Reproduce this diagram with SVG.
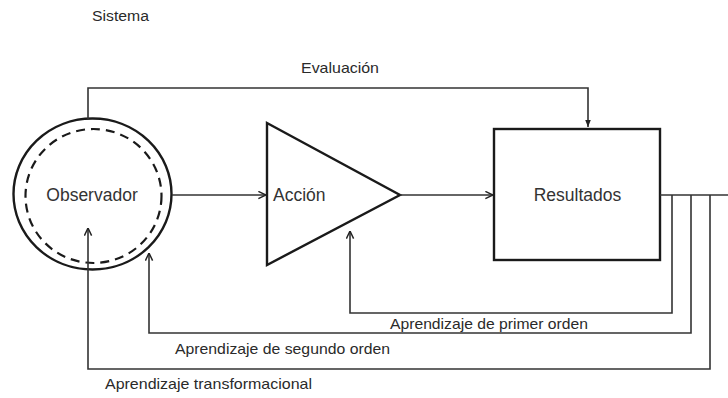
<svg xmlns="http://www.w3.org/2000/svg" width="728" height="398" viewBox="0 0 728 398">
<defs>
<marker id="arr" viewBox="0 0 10 10" refX="9.5" refY="5" markerWidth="9" markerHeight="9" markerUnits="userSpaceOnUse" orient="auto">
<path d="M1,1 L9.5,5 L1,9" fill="none" stroke="#222" stroke-width="1.6"/>
</marker>
<marker id="arrf" viewBox="0 0 10 10" refX="10" refY="5" markerWidth="7" markerHeight="7" markerUnits="userSpaceOnUse" orient="auto">
<path d="M0,1 L10,5 L0,9 Z" fill="#222"/>
</marker>
<style>
text{font-family:"Liberation Sans",Arial,sans-serif;fill:#2a2a2a}
.shape{fill:#fff;stroke:#1a1a1a;stroke-width:2.4}
.con{fill:none;stroke:#333;stroke-width:1.6}
.lbl{font-size:15px}
.node{font-size:17.5px;fill:#333}
</style>
</defs>
<rect width="728" height="398" fill="#fff"/>
<text class="lbl" x="92" y="21" textLength="57" lengthAdjust="spacingAndGlyphs" style="font-size:14px">Sistema</text>
<text class="lbl" x="301" y="73" textLength="78" lengthAdjust="spacingAndGlyphs">Evaluación</text>
<g id="observador">
<ellipse class="shape" cx="92.5" cy="194" rx="79" ry="75.5"/>
<ellipse cx="93.5" cy="196" rx="68" ry="67" fill="none" stroke="#1a1a1a" stroke-width="2.2" stroke-dasharray="9,6"/>
<text class="node" x="92" y="201" text-anchor="middle">Observador</text>
</g>
<g id="accion">
<polygon class="shape" points="267,123 400,195 267,265"/>
<text class="node" x="273" y="201">Acción</text>
</g>
<g id="resultados">
<rect class="shape" x="494" y="129" width="166" height="131"/>
<text class="node" x="577.5" y="201" text-anchor="middle">Resultados</text>
</g>
<g id="connectors">
<path class="con" d="M88,119 V88 H588 V127" marker-end="url(#arrf)"/>
<path class="con" d="M172,195 H266" marker-end="url(#arr)"/>
<path class="con" d="M400,195 H493" marker-end="url(#arr)"/>
<path class="con" d="M660,195 H728"/>
<path class="con" d="M672,195 V313 H350 V231" marker-end="url(#arr)"/>
<path class="con" d="M691,195 V333 H149 V253" marker-end="url(#arr)"/>
<path class="con" d="M710,195 V369 H88 V228" marker-end="url(#arr)"/>
</g>
<text class="lbl" x="390" y="329" textLength="198" lengthAdjust="spacingAndGlyphs">Aprendizaje de primer orden</text>
<text class="lbl" x="175" y="354" textLength="215" lengthAdjust="spacingAndGlyphs">Aprendizaje de segundo orden</text>
<text class="lbl" x="105" y="389" textLength="207" lengthAdjust="spacingAndGlyphs">Aprendizaje transformacional</text>
</svg>
